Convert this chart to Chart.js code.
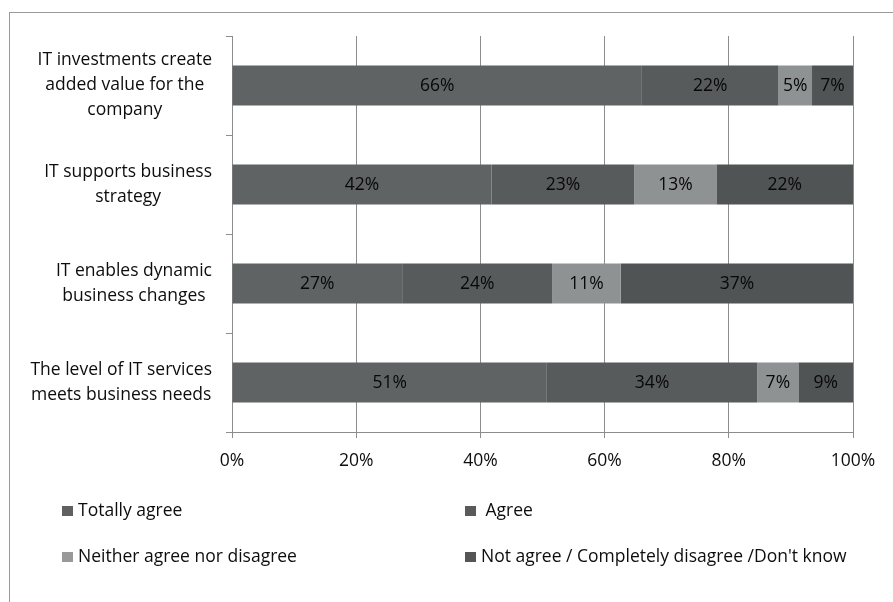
<!DOCTYPE html>
<html>
<head>
<meta charset="utf-8">
<script src="https://cdn.jsdelivr.net/npm/chart.js@4"></script>
<style>
  body { margin: 0; background: #fff; }
  #wrap { position: relative; width: 893px; height: 602px; overflow: hidden; font-family: 'Open Sans', sans-serif; }
  #frame { position: absolute; left: 9px; top: 12px; width: 1000px; height: 700px; border-left: 1.5px solid #9a9a9a; border-top: 1.5px solid #9a9a9a; }
  canvas { position: absolute; left: 0; top: 0; }
  .leg { position: absolute; font-size: 17.5px; color: #0d0d0d; line-height: 20px; white-space: nowrap; }
  .leg span.box { display: inline-block; width: 11px; height: 10px; margin-right: 5px; vertical-align: 0px; }
</style>
</head>
<body>
<div id="wrap">
  <div id="frame"></div>
  <canvas id="myChart" width="893" height="602"></canvas>
  <div id="legend"></div>
</div>
<script>
const categories = [
  ['IT investments create', 'added value for the', 'company'],
  ['IT supports business', 'strategy'],
  ['IT enables dynamic', 'business changes'],
  ['The level of IT services', 'meets business needs']
]
const seriesNames = ['Totally agree', 'Agree', 'Neither agree nor disagree', 'Not agree / Completely disagree /Don\'t know']
const totallyAgree = [66, 41.8, 27.4, 50.7]
const agree = [22, 23, 24.2, 33.9]
const neither = [5.4, 13.2, 11, 6.6]
const notAgree = [6.6, 22, 37.4, 8.8]
const xTicks = [0, 20, 40, 60, 80, 100]

const barColors = ['#606364', '#585b5c', '#8f9293', '#515455']
const legendColors = ['#606060', '#5a5a5a', '#999999', '#555555']
const font = "'Open Sans', sans-serif"
const textColor = '#0d0d0d'

// category labels: lines centred, block right-aligned next to the axis
const yLabels = {
  id: 'yLabels',
  afterDraw(chart) {
    const ctx = chart.ctx
    const yScale = chart.scales.y
    const right = yScale.right - 20
    ctx.save()
    ctx.font = '17.5px ' + font
    ctx.fillStyle = textColor
    ctx.textAlign = 'center'
    ctx.textBaseline = 'middle'
    const lh = 25
    categories.forEach((lines, i) => {
      const w = Math.max(...lines.map(l => ctx.measureText(l).width))
      const cx = right - w / 2
      const cy = yScale.getPixelForValue(i)
      lines.forEach((line, j) => {
        ctx.fillText(line, cx, cy + (j - (lines.length - 1) / 2) * lh)
      })
    })
    ctx.restore()
  }
}

// percentage labels inside the bars
const barLabels = {
  id: 'barLabels',
  afterDatasetsDraw(chart) {
    const ctx = chart.ctx
    ctx.save()
    ctx.font = '17.5px ' + font
    ctx.fillStyle = '#080808'
    ctx.textAlign = 'center'
    ctx.textBaseline = 'middle'
    chart.data.datasets.forEach((ds, d) => {
      chart.getDatasetMeta(d).data.forEach((bar, i) => {
        const p = bar.getProps(['x', 'y', 'base'], true)
        ctx.fillText(Math.round(ds.data[i]) + '%', (p.x + p.base) / 2, p.y + 1)
      })
    })
    ctx.restore()
  }
}

const ctx = document.getElementById('myChart')
new Chart(ctx, {
  type: 'bar',
  data: {
    labels: categories,
    datasets: [totallyAgree, agree, neither, notAgree].map((data, i) => ({
      label: seriesNames[i],
      data: data,
      backgroundColor: barColors[i],
      borderWidth: 0,
      barPercentage: 0.405,
      categoryPercentage: 1
    }))
  },
  options: {
    indexAxis: 'y',
    responsive: false,
    animation: false,
    layout: { padding: { left: 10, top: 36, right: 40, bottom: 130 } },
    plugins: { legend: { display: false }, tooltip: { enabled: false } },
    scales: {
      x: {
        stacked: true,
        min: 0,
        max: 100,
        afterBuildTicks: scale => { scale.ticks = xTicks.map(v => ({ value: v })) },
        afterFit: scale => { scale.height = 40 },
        grid: { color: '#8c8c8c', tickLength: 6, lineWidth: 1 },
        border: { color: '#8c8c8c' },
        ticks: {
          callback: v => v + '%',
          color: textColor,
          padding: 13,
          font: { family: font, size: 17.5 }
        }
      },
      y: {
        stacked: true,
        afterFit: scale => { scale.width = 222 },
        grid: { drawOnChartArea: false, offset: true, tickLength: 6, color: '#8c8c8c' },
        border: { color: '#8c8c8c' },
        ticks: { display: false }
      }
    }
  },
  plugins: [yLabels, barLabels]
})

// legend in two columns
const legendPos = [[62, 499], [465, 499], [62, 545], [465, 545]]
const legend = document.getElementById('legend')
seriesNames.forEach((name, i) => {
  const item = document.createElement('div')
  item.className = 'leg'
  item.style.left = legendPos[i][0] + 'px'
  item.style.top = legendPos[i][1] + 'px'
  const box = document.createElement('span')
  box.className = 'box'
  box.style.background = legendColors[i]
  item.appendChild(box)
  item.appendChild(document.createTextNode((i === 1 ? '\u00a0' : '') + name))
  legend.appendChild(item)
})
</script>
</body>
</html>
